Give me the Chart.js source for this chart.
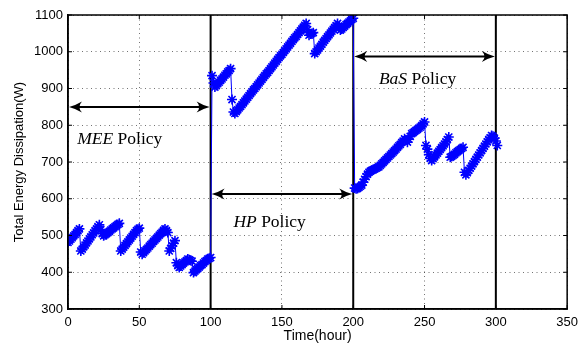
<!DOCTYPE html>
<html>
<head>
<meta charset="utf-8">
<script src="https://cdn.jsdelivr.net/npm/chart.js@4.4.1/dist/chart.umd.min.js"></script>
<style>
  html, body { margin: 0; padding: 0; background: #fff; }
  #wrap { width: 584px; height: 344px; }
</style>
</head>
<body>
<div id="wrap"><canvas id="energyChart" width="584" height="344"></canvas></div>
<script>
// Hourly samples, one array per policy
const meeStartHour = 0;
const meeEnergy = [
  481, 485, 490, 494, 499, 503, 508, 513, 518,
  458, 463, 469, 474, 480, 485, 491, 496, 502, 507, 513, 518, 524, 529,
  516, 505, 499, 502, 505, 508, 511, 515, 518, 521, 524, 527, 530, 533,
  458, 463, 468, 473, 478, 483, 488, 493, 498, 503, 508, 513, 517, 520,
  455, 449, 453, 458, 462, 466, 471, 475, 479, 484, 488, 492, 496, 501, 505, 509, 514, 518,
  513, 508, 458, 465, 472, 479, 486,
  426, 418, 413, 417, 421, 425, 428, 432, 436, 434, 432, 430,
  399, 403, 407, 410, 414, 418, 421, 425, 429, 432, 436, 438, 440
];
const hpStartHour = 101;
const hpEnergy = [
  935, 915, 904, 908, 913, 917, 922, 926, 931, 936, 940, 945, 949, 954,
  870, 836,
  832, 837, 842, 847, 851, 856, 861, 866, 871, 876,
  881, 886, 891, 896, 900, 905, 910, 915, 920, 925,
  930, 935, 940, 944, 949, 954, 959, 964, 969, 974,
  979, 984, 989, 993, 998, 1003, 1008, 1013, 1018, 1023,
  1028, 1033, 1038, 1042, 1047, 1052, 1057, 1062, 1067, 1072,
  1077,
  1060, 1045, 1048, 1050, 1052, 995,
  1000, 1005, 1010, 1015, 1020, 1026, 1031, 1036, 1041, 1046, 1051, 1056, 1061, 1066, 1071, 1077,
  1068, 1059, 1062, 1066, 1070, 1074, 1077, 1081, 1084, 1088, 1091
];
const basStartHour = 201;
const basEnergy = [
  629, 627, 628, 631, 634, 637, 645, 653, 660, 667,
  672, 675, 677, 679, 681, 683, 685, 687, 691, 695,
  699, 703, 707, 711, 715, 719, 723, 727, 731, 735,
  740, 744, 748, 753, 757, 763, 760, 754, 762, 770,
  777, 780, 783, 786, 789, 792, 795, 799, 804, 809,
  745, 735, 720, 710, 704, 709, 714, 719, 724, 729,
  734, 739, 744, 749, 755, 761, 768,
  713, 715, 718, 721, 725, 728, 731, 734, 737, 740,
  672, 665,
  671, 677, 683, 689, 695, 701, 707, 713, 719, 725, 731, 737, 743, 749, 755, 761, 766, 772,
  770, 765, 757, 745
];

// policy switch times and annotation arrows
const switchHours = [100, 200, 300];
const policyArrows = [
  { from: 0, to: 100, y: 850 },
  { from: 100, to: 200, y: 613 },
  { from: 200, to: 300, y: 987 }
];
const policyLabels = [
  { italic: 'MEE', rest: ' Policy', x: 6.5, y: 748 },
  { italic: 'HP', rest: ' Policy', x: 116, y: 522 },
  { italic: 'BaS', rest: ' Policy', x: 218, y: 912 }
];

const xTicks = [0, 50, 100, 150, 200, 250, 300, 350];
const yTicks = [300, 400, 500, 600, 700, 800, 900, 1000, 1100];

const toPoints = (start, values) => values.map((v, i) => ({ x: start + i, y: v }));
const energyPoints = [
  ...toPoints(meeStartHour, meeEnergy),
  ...toPoints(hpStartHour, hpEnergy),
  ...toPoints(basStartHour, basEnergy)
];

const switchDatasets = switchHours.map(h => ({
  data: [{ x: h, y: 300 }, { x: h, y: 1100 }],
  borderColor: '#000',
  borderWidth: 2,
  pointRadius: 0
}));

const drawArrowHead = (ctx, x, y, dir) => {
  const L = 13, W = 5.5;
  ctx.beginPath();
  ctx.moveTo(x, y);
  ctx.quadraticCurveTo(x - dir * L * 0.5, y - W * 0.3, x - dir * L, y - W);
  ctx.quadraticCurveTo(x - dir * L * 0.6, y, x - dir * L, y + W);
  ctx.quadraticCurveTo(x - dir * L * 0.5, y + W * 0.3, x, y);
  ctx.fill();
};

const decorations = {
  id: 'decorations',
  afterDraw(chart) {
    const { ctx, chartArea: a, scales: { x, y } } = chart;
    ctx.save();
    ctx.strokeStyle = '#000';
    ctx.fillStyle = '#000';

    // inner ticks
    ctx.lineWidth = 1;
    ctx.beginPath();
    xTicks.forEach(t => {
      const px = x.getPixelForValue(t);
      ctx.moveTo(px, a.bottom); ctx.lineTo(px, a.bottom - 4);
      ctx.moveTo(px, a.top); ctx.lineTo(px, a.top + 4);
    });
    yTicks.forEach(t => {
      const py = y.getPixelForValue(t);
      ctx.moveTo(a.left, py); ctx.lineTo(a.left + 4, py);
      ctx.moveTo(a.right, py); ctx.lineTo(a.right - 4, py);
    });
    ctx.stroke();

    // frame
    ctx.lineWidth = 1.5;
    ctx.strokeRect(a.left, a.top, a.right - a.left, a.bottom - a.top);

    // arrows
    ctx.lineWidth = 2;
    policyArrows.forEach(ar => {
      const x1 = x.getPixelForValue(ar.from) + 1;
      const x2 = x.getPixelForValue(ar.to) - 1;
      const py = y.getPixelForValue(ar.y);
      ctx.beginPath();
      ctx.moveTo(x1 + 6, py); ctx.lineTo(x2 - 6, py);
      ctx.stroke();
      drawArrowHead(ctx, x1, py, -1);
      drawArrowHead(ctx, x2, py, 1);
    });

    // policy labels
    ctx.textBaseline = 'alphabetic';
    policyLabels.forEach(lb => {
      let px = x.getPixelForValue(lb.x);
      const py = y.getPixelForValue(lb.y);
      ctx.font = 'italic 17.5px "Liberation Serif"';
      ctx.fillText(lb.italic, px, py);
      px += ctx.measureText(lb.italic).width;
      ctx.font = '17.5px "Liberation Serif"';
      ctx.fillText(lb.rest, px, py);
    });
    ctx.restore();
  }
};

new Chart(document.getElementById('energyChart'), {
  type: 'line',
  data: {
    datasets: [
      {
        data: energyPoints,
        borderColor: '#0000ff',
        borderWidth: 1,
        pointStyle: 'star',
        pointRadius: 5,
        pointBorderColor: '#0000ff',
        pointBorderWidth: 1.6,
        pointBackgroundColor: '#0000ff'
      },
      ...switchDatasets
    ]
  },
  options: {
    responsive: false,
    animation: false,
    layout: { padding: { top: 15, right: 10, left: 0, bottom: 0 } },
    plugins: { legend: { display: false }, tooltip: { enabled: false } },
    scales: {
      x: {
        type: 'linear',
        min: 0,
        max: 350,
        afterBuildTicks: s => { s.ticks = xTicks.map(v => ({ value: v })); },
        afterFit: s => { s.height = 35; },
        grid: { color: 'rgba(0,0,0,0.55)', drawTicks: false },
        border: { display: true, color: '#000', width: 1.5, dash: [1, 3.5] },
        ticks: { color: '#000', padding: 6, font: { family: '"Liberation Sans"', size: 13 }, callback: v => String(v) },
        title: {
          display: true, text: 'Time(hour)', color: '#000',
          padding: { top: 0, bottom: 0 },
          font: { family: '"Liberation Sans"', size: 14, lineHeight: 1.1 }
        }
      },
      y: {
        min: 300,
        max: 1100,
        afterBuildTicks: s => { s.ticks = yTicks.map(v => ({ value: v })); },
        afterFit: s => { s.width = 68; },
        grid: { color: 'rgba(0,0,0,0.55)', drawTicks: false },
        border: { display: true, color: '#000', width: 1.5, dash: [1, 3.5] },
        ticks: { color: '#000', padding: 5, font: { family: '"Liberation Sans"', size: 13 }, callback: v => String(v) },
        title: {
          display: true, text: 'Total Energy Dissipation(W)', color: '#000',
          padding: { top: 12, bottom: 0 },
          font: { family: '"Liberation Sans"', size: 13, lineHeight: 1.1 }
        }
      }
    }
  },
  plugins: [decorations]
});
</script>
</body>
</html>
